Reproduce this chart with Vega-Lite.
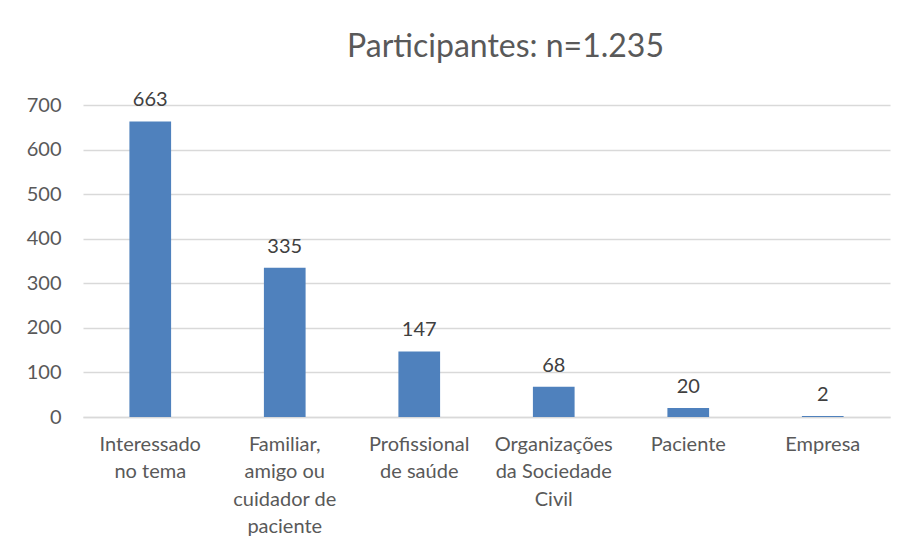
{
  "$schema": "https://vega.github.io/schema/vega-lite/v6.json",
  "width": 807,
  "height": 312,
  "autosize": {"type": "none"},
  "padding": {"left": 83, "top": 105, "right": 14, "bottom": 137},
  "background": "white",
  "title": {
    "text": "Participantes: n=1.235",
    "font": "Lato",
    "fontSize": 32,
    "fontWeight": "normal",
    "color": "#595959",
    "anchor": "middle",
    "dx": 19,
    "offset": 26
  },
  "data": {
    "values": [
      {"categoria": "Interessado no tema", "valor": 663},
      {"categoria": "Familiar, amigo ou cuidador de paciente", "valor": 335},
      {"categoria": "Profissional de saúde", "valor": 147},
      {"categoria": "Organizações da Sociedade Civil", "valor": 68},
      {"categoria": "Paciente", "valor": 20},
      {"categoria": "Empresa", "valor": 2}
    ]
  },
  "encoding": {
    "x": {
      "field": "categoria",
      "type": "nominal",
      "sort": null,
      "scale": {"paddingInner": 0.69, "paddingOuter": 0.345},
      "axis": {
        "title": null,
        "labelAngle": 0,
        "labelFont": "Lato",
        "labelFontSize": 20,
        "labelColor": "#595959",
        "labelPadding": 17,
        "labelLineHeight": 27.5,
        "labelBaseline": "top",
        "ticks": false,
        "domainColor": "#d9d9d9",
        "domainWidth": 1.5,
        "labelExpr": "datum.value == 'Interessado no tema' ? ['Interessado', 'no tema'] : datum.value == 'Familiar, amigo ou cuidador de paciente' ? ['Familiar,', 'amigo ou', 'cuidador de', 'paciente'] : datum.value == 'Profissional de saúde' ? ['Profissional', 'de saúde'] : datum.value == 'Organizações da Sociedade Civil' ? ['Organizações', 'da Sociedade', 'Civil'] : datum.value"
      }
    },
    "y": {
      "field": "valor",
      "type": "quantitative",
      "scale": {"domain": [0, 700]},
      "axis": {
        "title": null,
        "values": [0, 100, 200, 300, 400, 500, 600, 700],
        "labelFont": "Lato",
        "labelFontSize": 20,
        "labelColor": "#595959",
        "labelPadding": 22,
        "ticks": false,
        "domain": false,
        "gridColor": "#d9d9d9",
        "gridWidth": 1.5
      }
    }
  },
  "layer": [
    {"mark": {"type": "bar", "color": "#4f81bd"}},
    {
      "mark": {
        "type": "text",
        "baseline": "alphabetic",
        "dy": -15,
        "font": "Lato",
        "fontSize": 20,
        "color": "#404040"
      },
      "encoding": {"text": {"field": "valor", "type": "quantitative"}}
    }
  ],
  "config": {"view": {"stroke": null}}
}
